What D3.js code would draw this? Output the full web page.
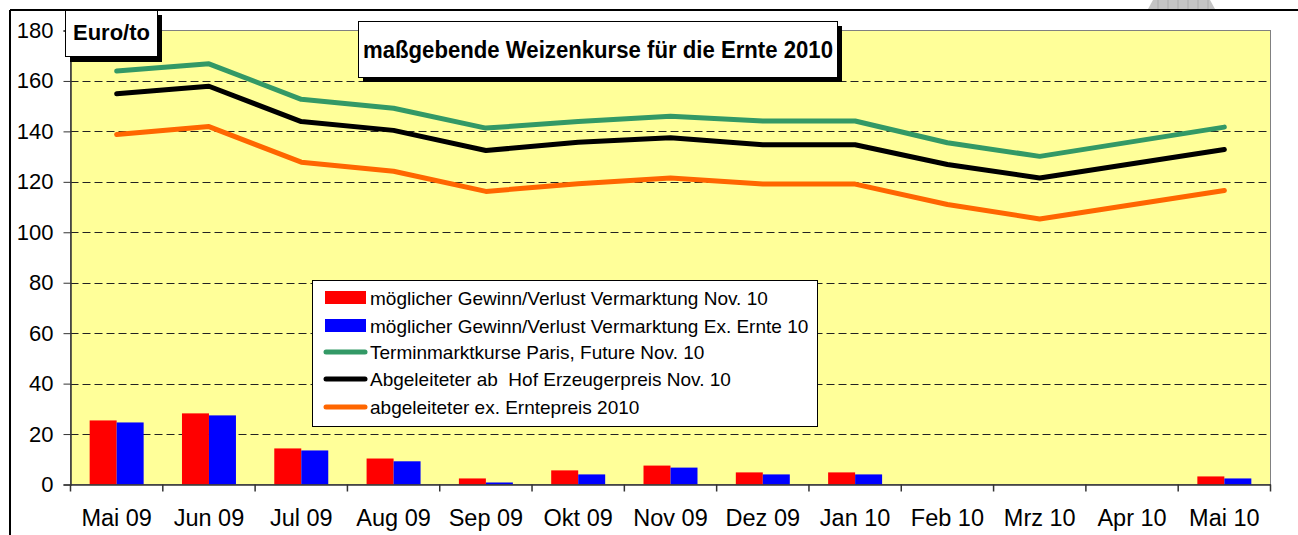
<!DOCTYPE html>
<html><head><meta charset="utf-8">
<script src="https://cdn.jsdelivr.net/npm/d3@7"></script>
<style>html,body{margin:0;padding:0;background:#fff;}svg{display:block;font-family:"Liberation Sans",Arial,sans-serif;}</style>
</head><body>
<svg id="c" width="1298" height="535"></svg>
<script>
const months = ["Mai 09","Jun 09","Jul 09","Aug 09","Sep 09","Okt 09","Nov 09","Dez 09","Jan 10","Feb 10","Mrz 10","Apr 10","Mai 10"];
const terminParis = [163.9,166.8,152.7,149.2,141.3,143.9,146.0,144.1,144.1,135.5,130.1,null,141.7];
const hofPreis    = [154.9,157.9,143.9,140.4,132.4,135.7,137.5,134.7,134.7,126.9,121.5,null,132.8];
const erntePreis  = [138.8,141.9,127.8,124.2,116.2,119.2,121.5,119.1,119.1,111.0,105.3,null,116.6];
const gewinnNov   = [25.4,28.2,14.3,10.3,2.4,5.6,7.5,4.8,4.8,null,null,null,3.2];
const gewinnErnte = [24.6,27.4,13.5,9.2,0.8,4.0,6.7,4.0,4.0,null,null,null,2.4];
const yTicks = [0,20,40,60,80,100,120,140,160,180];
const titleText = "maßgebende Weizenkurse für die Ernte 2010";
const unitText = "Euro/to";
const legendLabels = [
  "möglicher Gewinn/Verlust Vermarktung Nov. 10",
  "möglicher Gewinn/Verlust Vermarktung Ex. Ernte 10",
  "Terminmarktkurse Paris, Future Nov. 10",
  "Abgeleiteter ab  Hof Erzeugerpreis Nov. 10",
  "abgeleiteter ex. Erntepreis 2010"
];

const svg = d3.select("#c");
const L = 70.5, R = 1270.5, T = 30.5, B = 484.5;

// outer frame
svg.append("line").attr("x1",10).attr("x2",1298).attr("y1",10).attr("y2",10).attr("stroke","#000").attr("stroke-width",2);
svg.append("line").attr("x1",10).attr("x2",10).attr("y1",10).attr("y2",535).attr("stroke","#000").attr("stroke-width",2);
// small gray artifact at top
const art = svg.append("g");
art.append("path").attr("d","M1153,0 L1210,0 L1215,9 L1148,9 Z").attr("fill","#c4c4c4");
d3.range(1158,1212,10).forEach(xx=>art.append("line").attr("x1",xx).attr("x2",xx).attr("y1",0).attr("y2",9).attr("stroke","#aaa").attr("stroke-width",1));

const x = d3.scaleBand().domain(months).range([L,R]).padding(0);
const y = d3.scaleLinear().domain([0,180]).range([B,T]);

// plot background
svg.append("rect").attr("x",L).attr("y",T).attr("width",R-L).attr("height",B-T).attr("fill","#FFFF99").attr("stroke","#808080").attr("stroke-width",1);

// gridlines
svg.append("g").selectAll("line").data(yTicks.filter(v=>v>0&&v<180)).join("line")
  .attr("x1",L).attr("x2",R).attr("y1",d=>Math.round(y(d))+0.5).attr("y2",d=>Math.round(y(d))+0.5)
  .attr("stroke","#222").attr("stroke-width",1).attr("stroke-dasharray","8,4");

// bars
const series = ["nov","ernte"];
const x1 = d3.scaleBand().domain(series).range([0,x.bandwidth()]).paddingInner(0).paddingOuter(0.71);
const barData = [];
months.forEach((m,i)=>{
  if(gewinnNov[i]!=null) barData.push({m, s:"nov", v:gewinnNov[i]});
  if(gewinnErnte[i]!=null) barData.push({m, s:"ernte", v:gewinnErnte[i]});
});
svg.append("g").selectAll("rect").data(barData).join("rect")
  .attr("x",d=>x(d.m)+x1(d.s)).attr("width",x1.bandwidth())
  .attr("y",d=>y(d.v)).attr("height",d=>y(0)-y(d.v))
  .attr("fill",d=>d.s==="nov"?"#FF0000":"#0000FF");

// axes
const yAxis = d3.axisLeft(y).tickValues(yTicks).tickSize(7).tickPadding(10);
const gy = svg.append("g").attr("transform",`translate(${L},0)`).call(yAxis);
gy.select(".domain").attr("stroke","#333").attr("stroke-width",1.5);
gy.selectAll(".tick line").attr("stroke","#333");
gy.selectAll("text").attr("font-size",22).attr("fill","#000").attr("font-family","Liberation Sans, Arial, sans-serif");

const xAxis = d3.axisBottom(x).tickSize(0).tickPadding(25);
const gx = svg.append("g").attr("transform",`translate(0,${B})`).call(xAxis);
gx.select(".domain").attr("stroke","#333").attr("stroke-width",1.5);
gx.selectAll("text").attr("font-size",23.5).attr("fill","#000").attr("font-family","Liberation Sans, Arial, sans-serif");
// boundary ticks
const bounds = months.map(m=>x(m)).concat([R]);
svg.append("g").selectAll("line").data(bounds).join("line")
  .attr("x1",d=>d).attr("x2",d=>d).attr("y1",B).attr("y2",B+7).attr("stroke","#333").attr("stroke-width",1.5);

// lines
const lineGen = d3.line().x(d=>x(d.m)+x.bandwidth()/2).y(d=>y(d.v));
const lineSeries = [
  {vals:terminParis, color:"#339966"},
  {vals:hofPreis, color:"#000000"},
  {vals:erntePreis, color:"#FF6600"}
];
lineSeries.forEach(s=>{
  const pts = months.map((m,i)=>({m, v:s.vals[i]})).filter(d=>d.v!=null);
  svg.append("path").attr("d",lineGen(pts)).attr("fill","none").attr("stroke",s.color)
    .attr("stroke-width",5).attr("stroke-linejoin","round").attr("stroke-linecap","round");
});

// legend
const lg = svg.append("g");
lg.append("rect").attr("x",312.5).attr("y",280.5).attr("width",505).attr("height",146).attr("fill","#fff").attr("stroke","#000").attr("stroke-width",1);
const legendMarks = [
  {type:"rect", color:"#FF0000"},
  {type:"rect", color:"#0000FF"},
  {type:"line", color:"#339966"},
  {type:"line", color:"#000000"},
  {type:"line", color:"#FF6600"}
];
const rowY = [298, 326, 352, 379, 407];
legendMarks.forEach((mk,i)=>{
  const cy = rowY[i];
  if(mk.type==="rect") lg.append("rect").attr("x",325).attr("y",cy-7).attr("width",41).attr("height",13).attr("fill",mk.color);
  else lg.append("line").attr("x1",326).attr("x2",365).attr("y1",cy).attr("y2",cy).attr("stroke",mk.color).attr("stroke-width",5).attr("stroke-linecap","round");
  lg.append("text").attr("x",370).attr("y",cy).attr("dy","0.36em").attr("font-size",19).attr("fill","#000")
    .style("white-space","pre").attr("xml:space","preserve").text(legendLabels[i]);
});

// title box with shadow
svg.append("rect").attr("x",363).attr("y",26).attr("width",479).attr("height",56).attr("fill","#000");
svg.append("rect").attr("x",358.5).attr("y",21.5).attr("width",479).attr("height",56).attr("fill","#fff").attr("stroke","#000").attr("stroke-width",1);
svg.append("text").attr("x",598).attr("y",58).attr("text-anchor","middle").attr("font-size",24.5).attr("font-weight","bold").attr("fill","#000")
  .attr("textLength",470).attr("lengthAdjust","spacingAndGlyphs").text(titleText);

// unit box with shadow
svg.append("rect").attr("x",70).attr("y",15).attr("width",92).attr("height",47).attr("fill","#000");
svg.append("rect").attr("x",65.5).attr("y",10.5).attr("width",92).attr("height",46).attr("fill","#fff").attr("stroke","#000").attr("stroke-width",1);
svg.append("text").attr("x",111.5).attr("y",40).attr("text-anchor","middle").attr("font-size",22).attr("font-weight","bold").attr("fill","#000").text(unitText);
</script>
</body></html>
